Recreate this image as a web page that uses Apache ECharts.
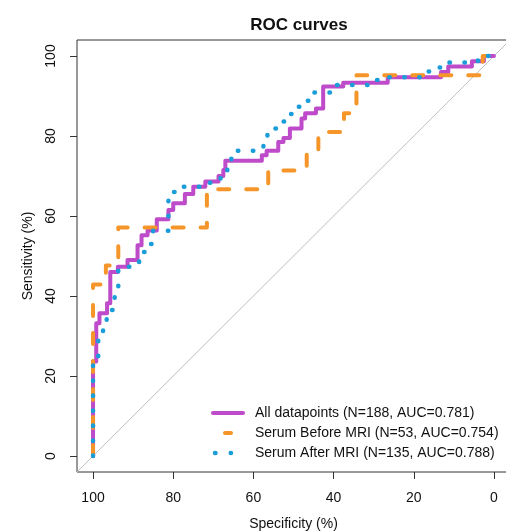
<!DOCTYPE html>
<html><head><meta charset="utf-8">
<script src="https://cdn.jsdelivr.net/npm/echarts@6/dist/echarts.min.js"></script>
<style>html,body{margin:0;padding:0;background:#fff}#c{width:506px;height:531px}</style>
</head><body><div id="c"></div>
<script>
const chartTitle = 'ROC curves';
const xName = 'Specificity (%)';
const yName = 'Sensitivity (%)';
const tickValues = [0, 20, 40, 60, 80, 100];
const seriesNames = [
  'All datapoints (N=188, AUC=0.781)',
  'Serum Before MRI (N=53, AUC=0.754)',
  'Serum After MRI (N=135, AUC=0.788)'
];
// ROC step points (specificity %, sensitivity %): vertical move first, then horizontal
const allSpec = [100, 99.2, 98.4, 96.5, 95.7, 93.8, 91.4, 88.9, 87.9, 86.4, 84.1, 81.2, 80.0, 77.1, 75.0, 72.0, 68.7, 67.5, 67.0, 57.9, 56.7, 53.8, 52.5, 50.9, 48.0, 47.1, 44.4, 42.6, 37.6, 26.5, 13.2, 11.4, 5.5, 2.5, 0];
const allSens = [0, 23.6, 33.2, 35.7, 38.2, 46.0, 47.3, 49.0, 52.7, 55.2, 56.4, 59.2, 61.5, 63.2, 65.5, 67.3, 68.6, 70.0, 71.5, 73.8, 75.2, 76.3, 78.5, 79.5, 81.9, 84.4, 85.7, 86.9, 92.4, 93.3, 94.7, 96.0, 97.4, 98.7, 100];
const beforeSpec = [100, 96.8, 93.7, 71.6, 56.3, 46.7, 43.8, 37.4, 34.3, 2.8, 0];
const beforeSens = [0, 42.9, 47.6, 57.1, 66.7, 71.4, 76.2, 81.0, 85.7, 95.2, 100];
const afterSpec = [100, 98.7, 97.5, 96.6, 94.6, 93.7, 90.5, 88.5, 86.5, 85.0, 81.2, 80.5, 79.0, 73.0, 70.5, 68.2, 66.5, 65.5, 64.5, 57.5, 56.5, 55.5, 52.5, 50.8, 49.0, 47.0, 45.5, 40.0, 30.5, 28.0, 18.0, 15.5, 13.0, 4.0, 0];
const afterSens = [0, 24.0, 31.0, 33.5, 36.5, 40.0, 47.3, 48.5, 51.0, 53.0, 56.3, 64.0, 66.0, 67.3, 68.3, 69.2, 70.7, 72.9, 75.2, 76.3, 78.2, 80.7, 81.9, 83.6, 85.5, 87.3, 88.8, 90.9, 92.75, 94.0, 94.7, 96.1, 97.1, 98.4, 100];
const chanceSpec = [104, -4];
const chanceSens = [-4, 104];

const colors = ['#BE4BCA', '#F5952A', '#1A9DD9'];
const font = '"Liberation Sans", Arial, sans-serif';
const zip = (a, b) => a.map((v, i) => [v, b[i]]);

const chart = echarts.init(document.getElementById('c'), null, {renderer: 'canvas'});
const axisCommon = {
  type: 'value', min: -4, max: 104,
  axisLine: {show: false, onZero: false},
  splitLine: {show: false},
  axisTick: {show: true, inside: false, length: 7, customValues: tickValues, lineStyle: {color: '#333', width: 1}},
  axisLabel: {customValues: tickValues, color: '#111', fontSize: 14, fontFamily: font},
  nameLocation: 'middle',
  nameTextStyle: {color: '#111', fontSize: 14, fontFamily: font},
  nameMoveOverlap: false
};
chart.setOption({
  animation: false,
  backgroundColor: '#fff',
  title: {text: chartTitle, left: 294, top: 12, textAlign: 'center',
    textStyle: {fontSize: 17, fontWeight: 'bold', color: '#111', fontFamily: font}},
  grid: {left: 77, top: 40, right: -4, bottom: 59, show: true, borderColor: '#333', borderWidth: 1,
    outerBoundsMode: 'none', containLabel: false},
  xAxis: Object.assign({}, axisCommon, {inverse: true, name: xName, nameGap: 45, position: 'bottom',
    axisLabel: Object.assign({}, axisCommon.axisLabel, {margin: 19})}),
  yAxis: Object.assign({}, axisCommon, {name: yName, nameGap: 42, position: 'left',
    axisLabel: Object.assign({}, axisCommon.axisLabel, {margin: 19, rotate: 90})}),
  series: [
    {type: 'line', data: zip(chanceSpec, chanceSens), showSymbol: false, silent: true,
      lineStyle: {color: '#BEBEBE', width: 1}},
    {type: 'line', name: seriesNames[0], data: zip(allSpec, allSens), step: 'start', showSymbol: false,
      lineStyle: {color: colors[0], width: 4, join: 'round', cap: 'round'}},
    {type: 'line', name: seriesNames[1], data: zip(beforeSpec, beforeSens), step: 'start', showSymbol: false,
      lineStyle: {color: colors[1], width: 4, type: [11, 17], cap: 'round', join: 'round'}},
    {type: 'line', name: seriesNames[2], data: zip(afterSpec, afterSens), step: 'start', showSymbol: false,
      lineStyle: {color: colors[2], width: 4.5, type: [0.5, 14.5], cap: 'round', join: 'round'}}
  ],
  graphic: [
    {type: 'line', shape: {x1: 213, y1: 413, x2: 243, y2: 413}, style: {stroke: colors[0], lineWidth: 4, lineCap: 'round'}},
    {type: 'line', shape: {x1: 225, y1: 433, x2: 231, y2: 433}, style: {stroke: colors[1], lineWidth: 4, lineCap: 'round'}},
    {type: 'line', shape: {x1: 215, y1: 453, x2: 231, y2: 453}, style: {stroke: colors[2], lineWidth: 4.5, lineCap: 'round', lineDash: [0.5, 15.2]}},
    {type: 'text', x: 255, y: 413, style: {text: seriesNames[0], fill: '#111', font: '14px ' + font, verticalAlign: 'middle'}},
    {type: 'text', x: 255, y: 433, style: {text: seriesNames[1], fill: '#111', font: '14px ' + font, verticalAlign: 'middle'}},
    {type: 'text', x: 255, y: 453, style: {text: seriesNames[2], fill: '#111', font: '14px ' + font, verticalAlign: 'middle'}}
  ]
});
</script></body></html>
